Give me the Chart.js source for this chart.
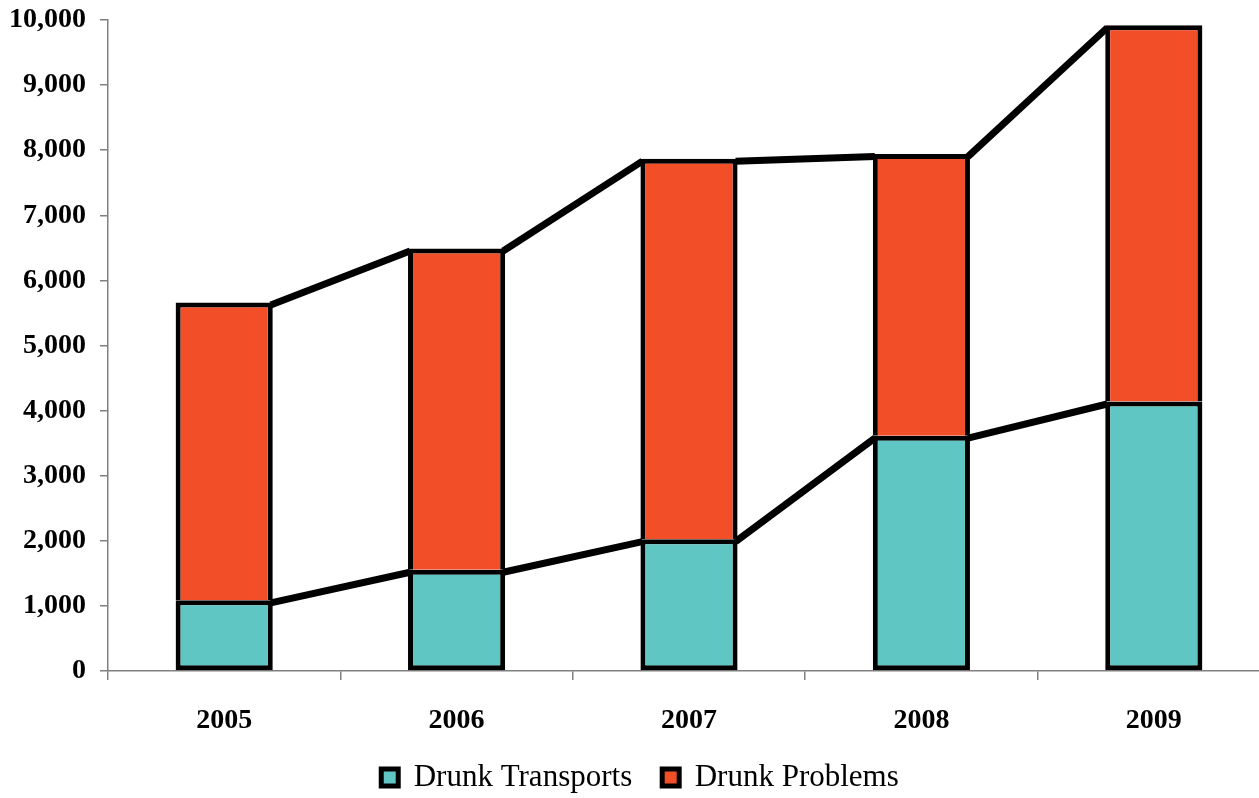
<!DOCTYPE html>
<html>
<head>
<meta charset="utf-8">
<script src="https://cdn.jsdelivr.net/npm/chart.js@4"></script>
<style>
  html, body { margin: 0; padding: 0; background: #fff; overflow: hidden; }
  #wrap { width: 1259px; height: 798px; overflow: hidden; }
  #box { width: 1280px; height: 798px; position: relative; }
</style>
</head>
<body>
<div id="wrap"><div id="box"><canvas id="chart"></canvas></div></div>
<script>
// values
const years = ["2005", "2006", "2007", "2008", "2009"];
const drunkTransports = [1085, 1555, 2025, 3615, 4140];
const drunkProblems = [4575, 4935, 5845, 4325, 5780];
const yTicks = [0, 1000, 2000, 3000, 4000, 5000, 6000, 7000, 8000, 9000, 10000];

// Excel style series lines between the bar tops
const seriesLines = {
  id: "seriesLines",
  afterDatasetsDraw(chart) {
    const ctx = chart.ctx;
    ctx.save();
    ctx.strokeStyle = "#000";
    ctx.lineWidth = 7;
    chart.data.datasets.forEach((ds, di) => {
      const bars = chart.getDatasetMeta(di).data;
      for (let i = 0; i < bars.length - 1; i++) {
        const a = bars[i];
        const b = bars[i + 1];
        ctx.beginPath();
        ctx.moveTo(a.x + a.width / 2 - 2, a.y + 2.5);
        ctx.lineTo(b.x - b.width / 2 + 2, b.y + 2.5);
        ctx.stroke();
      }
    });
    ctx.restore();
  },
};

const serif = "'Liberation Serif', 'Times New Roman', serif";
const tickFont = { family: serif, size: 28, weight: "bold" };

new Chart(document.getElementById("chart"), {
  type: "bar",
  data: {
    labels: years,
    datasets: [
      {
        label: "Drunk Transports",
        data: drunkTransports,
        backgroundColor: "#60c6c3",
        borderColor: "#000",
        borderWidth: 5,
        borderSkipped: false,
      },
      {
        label: "Drunk Problems",
        data: drunkProblems,
        backgroundColor: "#f24e27",
        borderColor: "#000",
        borderWidth: { top: 5, left: 5, right: 5, bottom: 0 },
        borderSkipped: false,
      },
    ],
  },
  options: {
    responsive: true,
    maintainAspectRatio: false,
    animation: false,
    categoryPercentage: 1,
    barPercentage: 0.418,
    layout: { padding: { top: 20, left: 10, right: 10, bottom: -5 } },
    scales: {
      x: {
        stacked: true,
        border: { color: "#808080", width: 1.5 },
        grid: { drawOnChartArea: false, drawTicks: true, tickLength: 9, color: "#808080", lineWidth: 1.5, offset: true },
        ticks: { color: "#000", font: tickFont, padding: 24 },
        afterFit(scale) { scale.height = 61; },
      },
      y: {
        stacked: true,
        min: 0,
        max: 10000,
        afterBuildTicks(scale) { scale.ticks = yTicks.map((v) => ({ value: v })); },
        border: { color: "#808080", width: 1.5 },
        grid: { drawOnChartArea: false, drawTicks: true, tickLength: 8, color: "#808080", lineWidth: 1.5 },
        ticks: {
          color: "#000",
          font: tickFont,
          padding: 14,
          callback: (v) => v.toLocaleString("en-US"),
        },
        afterFit(scale) {
          scale.width = 98;
          scale.paddingTop = 0;
          scale.paddingBottom = 0;
        },
      },
    },
    plugins: {
      legend: {
        position: "bottom",
        labels: {
          color: "#000",
          font: { family: serif, size: 31 },
          boxWidth: 17,
          boxHeight: 17,
          padding: 30,
          generateLabels(chart) {
            return Chart.defaults.plugins.legend.labels.generateLabels(chart)
              .map((item) => ({ ...item, lineWidth: 5 }));
          },
        },
      },
      tooltip: { enabled: false },
    },
  },
  plugins: [seriesLines],
});
</script>
</body>
</html>
